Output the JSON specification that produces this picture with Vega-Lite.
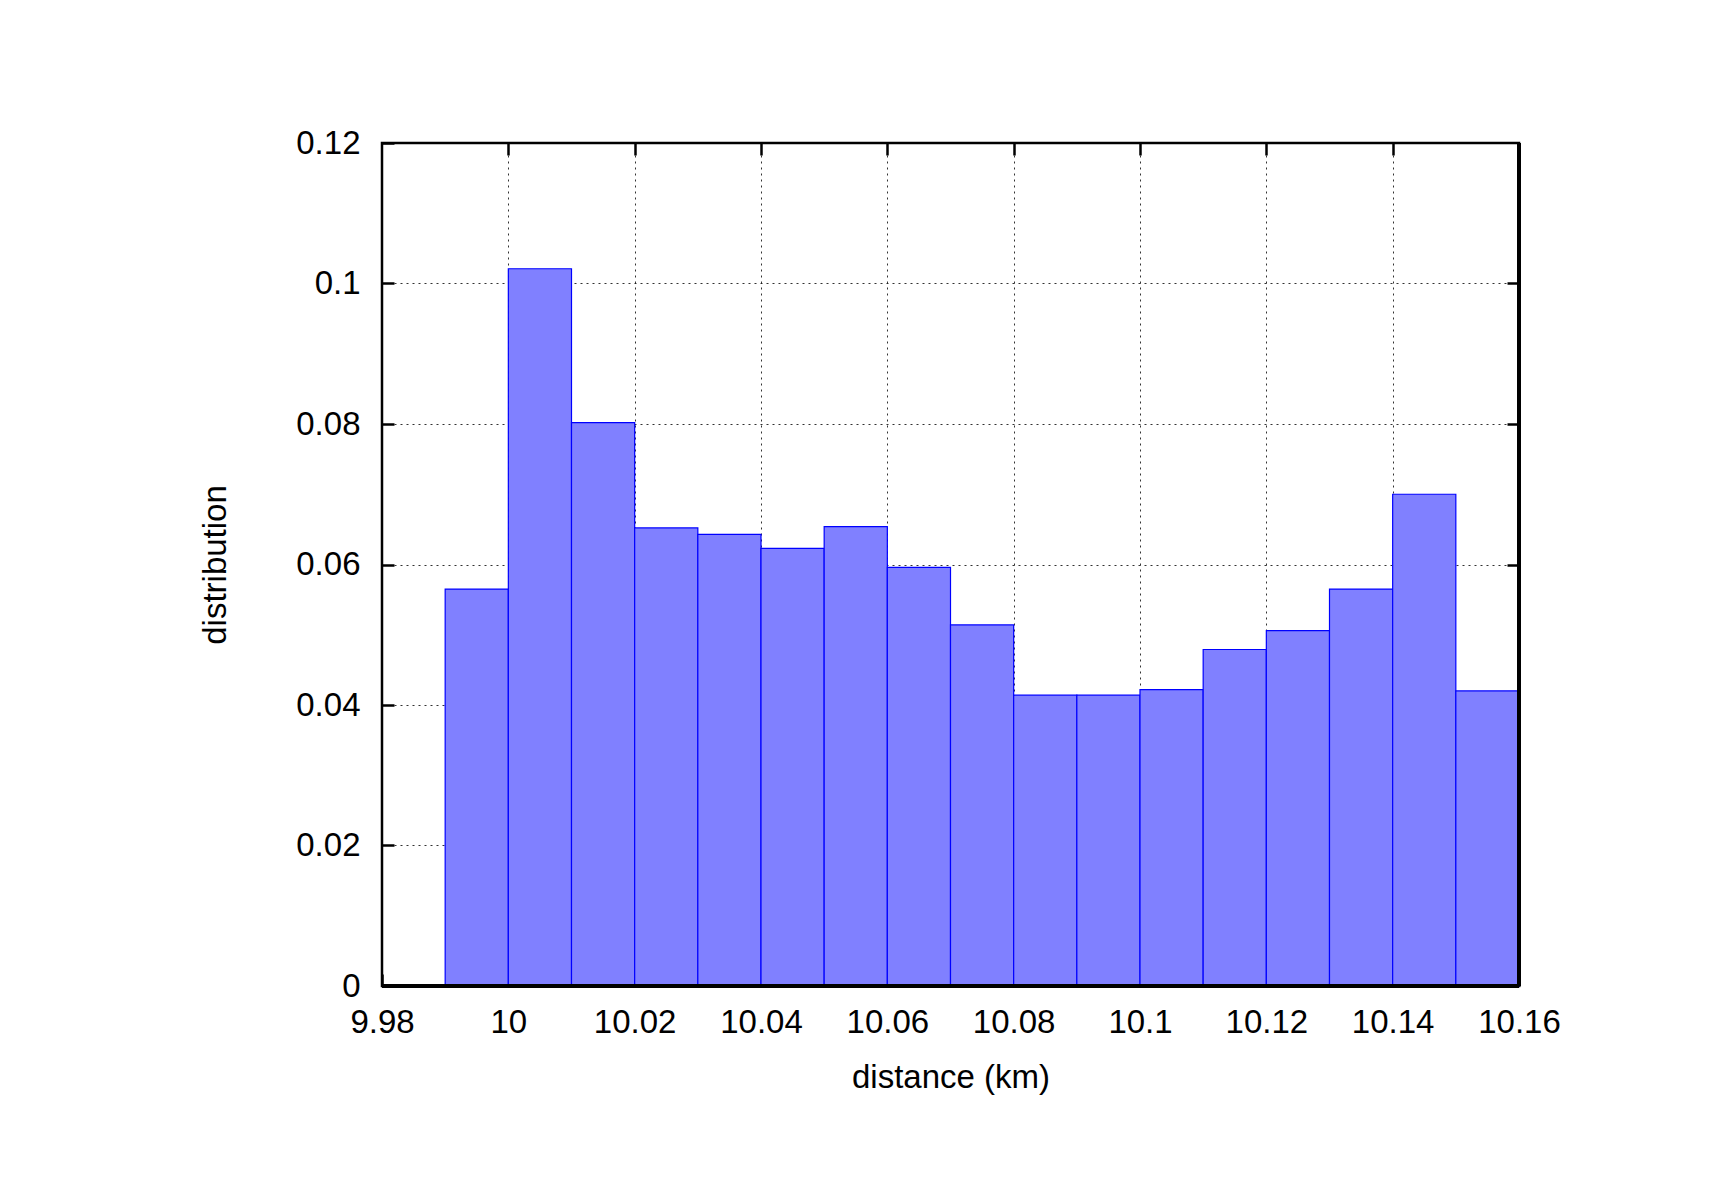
{
  "$schema": "https://vega.github.io/schema/vega-lite/v6.json",
  "autosize": "none",
  "width": 1137,
  "height": 843,
  "padding": {"left": 382, "top": 143, "right": 197, "bottom": 214},
  "background": "white",
  "config": {
    "view": {"stroke": "black", "strokeWidth": 2.5},
    "font": "Liberation Sans",
    "axis": {
      "labelFont": "Liberation Sans",
      "titleFont": "Liberation Sans",
      "labelFontSize": 33,
      "titleFontSize": 33,
      "labelColor": "black",
      "titleColor": "black",
      "titleFontWeight": "normal",
      "domain": false,
      "tickColor": "black",
      "tickWidth": 2.5,
      "tickSize": -12,
      "gridColor": "black",
      "gridDash": [2, 4],
      "gridWidth": 1,
      "gridOpacity": 0.8
    }
  },
  "data": {
    "values": [
      {"start": 9.99, "end": 10.00, "value": 0.0565},
      {"start": 10.00, "end": 10.01, "value": 0.1021},
      {"start": 10.01, "end": 10.02, "value": 0.0802},
      {"start": 10.02, "end": 10.03, "value": 0.0652},
      {"start": 10.03, "end": 10.04, "value": 0.0643},
      {"start": 10.04, "end": 10.05, "value": 0.0623},
      {"start": 10.05, "end": 10.06, "value": 0.0654},
      {"start": 10.06, "end": 10.07, "value": 0.0596},
      {"start": 10.07, "end": 10.08, "value": 0.0514},
      {"start": 10.08, "end": 10.09, "value": 0.0414},
      {"start": 10.09, "end": 10.10, "value": 0.0414},
      {"start": 10.10, "end": 10.11, "value": 0.0422},
      {"start": 10.11, "end": 10.12, "value": 0.0479},
      {"start": 10.12, "end": 10.13, "value": 0.0506},
      {"start": 10.13, "end": 10.14, "value": 0.0565},
      {"start": 10.14, "end": 10.15, "value": 0.0700},
      {"start": 10.15, "end": 10.16, "value": 0.0420}
    ]
  },
  "layer": [
    {
      "mark": {"type": "rect", "fill": "#8080ff", "stroke": "#0000ff", "strokeWidth": 1.2},
      "encoding": {
        "x": {
          "field": "start", "type": "quantitative",
          "scale": {"domain": [9.98, 10.16], "nice": false, "zero": false},
          "axis": {
            "orient": "bottom",
            "title": "distance (km)",
            "values": [9.98, 10, 10.02, 10.04, 10.06, 10.08, 10.1, 10.12, 10.14, 10.16],
            "labelExpr": "toString(datum.value)",
            "labelPadding": 32,
            "titlePadding": 22,
            "labelFlush": false,
            "labelOverlap": false
          }
        },
        "x2": {"field": "end"},
        "y": {
          "field": "value", "type": "quantitative",
          "scale": {"domain": [0, 0.12], "nice": false},
          "axis": {
            "orient": "left",
            "title": "distribution",
            "values": [0, 0.02, 0.04, 0.06, 0.08, 0.1, 0.12],
            "labelExpr": "toString(datum.value)",
            "labelPadding": 34,
            "titlePadding": 63,
            "labelFlush": false,
            "labelOverlap": false
          }
        },
        "y2": {"datum": 0}
      }
    },
    {
      "mark": {"type": "rect", "opacity": 0},
      "encoding": {
        "x": {
          "field": "start", "type": "quantitative",
          "axis": {
            "orient": "top",
            "title": null,
            "labels": false,
            "grid": false,
            "values": [10, 10.02, 10.04, 10.06, 10.08, 10.1, 10.12, 10.14]
          }
        },
        "x2": {"field": "end"},
        "y": {
          "field": "value", "type": "quantitative",
          "axis": {
            "orient": "right",
            "title": null,
            "labels": false,
            "grid": false,
            "values": [0.02, 0.04, 0.06, 0.08, 0.1]
          }
        },
        "y2": {"datum": 0}
      }
    },
    {
      "mark": {"type": "rule", "color": "black", "strokeWidth": 2.5},
      "encoding": {"y": {"datum": 0, "type": "quantitative", "axis": null}}
    },
    {
      "mark": {"type": "rule", "color": "black", "strokeWidth": 2.5},
      "encoding": {"x": {"datum": 10.16, "type": "quantitative", "axis": null}}
    }
  ],
  "resolve": {"axis": {"x": "independent", "y": "independent"}}
}
